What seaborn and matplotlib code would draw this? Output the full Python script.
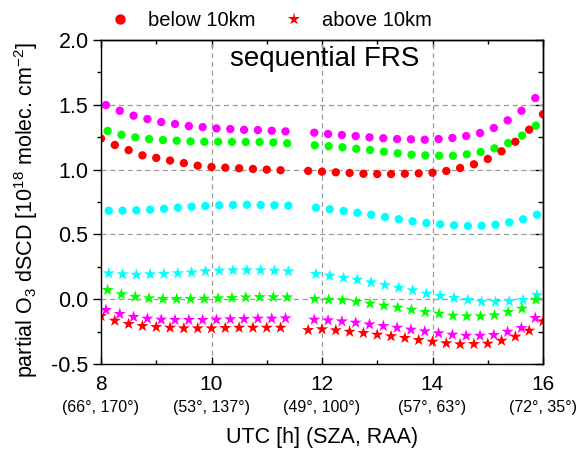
import numpy as np
import pandas as pd
import matplotlib
matplotlib.use("Agg")
import matplotlib.pyplot as plt
from matplotlib.lines import Line2D
from matplotlib.ticker import MultipleLocator
import seaborn as sns

# ---------------- data ----------------
red_t = [8.00, 8.25, 8.50, 8.75, 9.00, 9.25, 9.50, 9.75, 10.00, 10.25, 10.50, 10.75, 11.00, 11.25,
         11.75, 12.00, 12.25, 12.50, 12.75, 13.00, 13.25, 13.50, 13.75, 14.00, 14.25, 14.50, 14.75,
         15.00, 15.25, 15.50, 15.75, 16.00]
mag_t = [8.09, 8.34, 8.59, 8.84, 9.09, 9.34, 9.59, 9.84, 10.09, 10.34, 10.59, 10.84, 11.09, 11.34,
         11.86, 12.11, 12.36, 12.61, 12.86, 13.11, 13.36, 13.61, 13.86, 14.11, 14.36, 14.61, 14.86,
         15.11, 15.36, 15.61, 15.86]
grn_t = [8.12, 8.37, 8.62, 8.87, 9.12, 9.37, 9.62, 9.87, 10.12, 10.37, 10.62, 10.87, 11.12, 11.37,
         11.87, 12.12, 12.37, 12.62, 12.87, 13.12, 13.37, 13.62, 13.87, 14.12, 14.37, 14.62, 14.87,
         15.12, 15.37, 15.62, 15.87]
cyan_t = [8.14, 8.39, 8.64, 8.89, 9.14, 9.39, 9.64, 9.89, 10.14, 10.39, 10.64, 10.89, 11.14, 11.39,
          11.89, 12.14, 12.39, 12.64, 12.89, 13.14, 13.39, 13.64, 13.89, 14.14, 14.39, 14.64, 14.89,
          15.14, 15.39, 15.64, 15.89]

# below 10 km (circles)
red_below = [1.24, 1.19, 1.15, 1.11, 1.09, 1.07, 1.05, 1.03, 1.02, 1.015, 1.01, 1.005, 1.00, 0.995,
             0.99, 0.984, 0.979, 0.974, 0.968, 0.966, 0.966, 0.968, 0.971, 0.976, 0.989, 1.012, 1.041,
             1.082, 1.141, 1.215, 1.308, 1.427]
mag_below = [1.498, 1.454, 1.416, 1.39, 1.367, 1.352, 1.336, 1.328, 1.318, 1.313, 1.307, 1.305, 1.30, 1.295,
             1.285, 1.275, 1.267, 1.259, 1.249, 1.242, 1.236, 1.234, 1.231, 1.236, 1.244, 1.259, 1.282,
             1.321, 1.380, 1.454, 1.552]
grn_below = [1.298, 1.269, 1.249, 1.236, 1.228, 1.223, 1.218, 1.215, 1.215, 1.213, 1.213, 1.213, 1.21, 1.203,
             1.188, 1.180, 1.172, 1.161, 1.151, 1.138, 1.126, 1.115, 1.110, 1.107, 1.107, 1.118, 1.136,
             1.164, 1.205, 1.262, 1.339]
cyan_below = [0.683, 0.683, 0.686, 0.691, 0.698, 0.706, 0.714, 0.719, 0.725, 0.727, 0.729, 0.727, 0.725, 0.722,
              0.706, 0.694, 0.681, 0.667, 0.652, 0.634, 0.617, 0.601, 0.588, 0.578, 0.570, 0.565, 0.567,
              0.575, 0.593, 0.617, 0.652]

# above 10 km (stars)
red_above = [-0.130, -0.166, -0.191, -0.207, -0.215, -0.220, -0.225, -0.225, -0.225, -0.222, -0.220, -0.220, -0.220, -0.220,
             -0.238, -0.232, -0.240, -0.251, -0.261, -0.274, -0.286, -0.299, -0.315, -0.328, -0.340, -0.348, -0.346,
             -0.343, -0.320, -0.289, -0.243, -0.171]
mag_above = [-0.083, -0.114, -0.137, -0.150, -0.158, -0.160, -0.160, -0.160, -0.158, -0.155, -0.153, -0.150, -0.150, -0.147,
             -0.158, -0.163, -0.171, -0.181, -0.194, -0.207, -0.220, -0.235, -0.248, -0.263, -0.274, -0.282, -0.282,
             -0.276, -0.251, -0.222, -0.145]
grn_above = [0.071, 0.038, 0.019, 0.007, 0.002, 0.002, 0.002, 0.004, 0.007, 0.010, 0.014, 0.016, 0.016, 0.014,
             0.002, -0.004, -0.008, -0.021, -0.034, -0.050, -0.065, -0.081, -0.099, -0.112, -0.127, -0.132, -0.132,
             -0.124, -0.099, -0.073, -0.004]
cyan_above = [0.200, 0.192, 0.189, 0.192, 0.195, 0.200, 0.206, 0.215, 0.220, 0.223, 0.223, 0.223, 0.220, 0.215,
              0.194, 0.181, 0.165, 0.150, 0.130, 0.109, 0.088, 0.068, 0.042, 0.025, 0.009, -0.006, -0.019,
              -0.021, -0.016, -0.006, 0.032]

x_ticks = [8, 10, 12, 14, 16]
x_sub_labels = ["(66°, 170°)", "(53°, 137°)", "(49°, 100°)", "(57°, 63°)", "(72°, 35°)"]
y_ticks = [-0.5, 0.0, 0.5, 1.0, 1.5, 2.0]

colors = {"red": "#FF0000", "magenta": "#FF00FF", "green": "#00FF00", "cyan": "#00FFFF"}

rows = []
for name, t, vb, va in [("cyan", cyan_t, cyan_below, cyan_above),
                        ("green", grn_t, grn_below, grn_above),
                        ("magenta", mag_t, mag_below, mag_above),
                        ("red", red_t, red_below, red_above)]:
    for ti, v in zip(t, vb):
        rows.append((name, "below", ti, v))
    for ti, v in zip(t, va):
        rows.append((name, "above", ti, v))
df = pd.DataFrame(rows, columns=["series", "layer", "utc", "dscd"])

# ---------------- style ----------------
sns.set_theme(style="ticks")
plt.rcParams["font.family"] = ["Liberation Sans", "DejaVu Sans"]
plt.rcParams["mathtext.default"] = "regular"
plt.rcParams["axes.linewidth"] = 1.0
for k in ["text.color", "axes.labelcolor", "xtick.color", "ytick.color", "axes.edgecolor"]:
    plt.rcParams[k] = "black"

fig = plt.figure(figsize=(5.86, 4.55), dpi=100)
ax = fig.add_axes([101 / 586, 1 - 364 / 455, 442 / 586, 324 / 455])

order = ["cyan", "green", "magenta", "red"]
sns.scatterplot(data=df[df.layer == "below"], x="utc", y="dscd", hue="series",
                hue_order=order, palette=colors, marker="o", s=36, linewidth=0,
                legend=False, ax=ax)
sns.scatterplot(data=df[df.layer == "above"], x="utc", y="dscd", hue="series",
                hue_order=order, palette=colors, marker="*", s=85, linewidth=0,
                legend=False, ax=ax)

ax.set_xlim(8, 16)
ax.set_ylim(-0.5, 2.0)
ax.set_xticks(x_ticks)
ax.set_xticklabels([str(v) for v in x_ticks], fontsize=15)
ax.xaxis.set_minor_locator(MultipleLocator(1))
ax.set_yticks(y_ticks)
ax.set_yticklabels([f"{v:.1f}" for v in y_ticks], fontsize=15.5)
ax.yaxis.set_minor_locator(MultipleLocator(0.25))

ax.tick_params(axis="x", which="major", direction="in", length=5, width=1.0, pad=8, top=False)
ax.tick_params(axis="x", which="minor", direction="in", length=3, width=1.0, top=False)
ax.tick_params(axis="y", which="major", direction="out", length=5.5, width=1.0, pad=3.5, right=False)
ax.tick_params(axis="y", which="minor", direction="out", length=3, width=1.0, right=False)

top = ax.secondary_xaxis("top")
top.set_xticks(x_ticks)
top.xaxis.set_minor_locator(MultipleLocator(1))
top.tick_params(which="major", direction="in", length=5, width=1.0, labeltop=False)
top.tick_params(which="minor", direction="in", length=3, width=1.0)
right = ax.secondary_yaxis("right")
right.set_yticks(y_ticks)
right.yaxis.set_minor_locator(MultipleLocator(0.25))
right.tick_params(which="major", direction="in", length=6, width=1.0, labelright=False)
right.tick_params(which="minor", direction="in", length=3.5, width=1.0)

ax.grid(which="major", linestyle=(0, (4, 3)), color="#9a9a9a", linewidth=0.9)
ax.set_axisbelow(True)

for xv, lab in zip(x_ticks, x_sub_labels):
    ax.annotate(lab, xy=(xv, 0), xycoords=("data", "axes fraction"),
                xytext=(0, -31), textcoords="offset points",
                ha="center", va="center", fontsize=11.5, annotation_clip=False)

ax.set_xlabel("UTC [h] (SZA, RAA)", fontsize=15.5)
ax.xaxis.label.set_va("center")
ax.xaxis.set_label_coords(0.5, -0.228)
ax.set_ylabel("partial O$_3$ dSCD [10$^{18}$ molec. cm$^{-2}$]", fontsize=15.5)
ax.yaxis.label.set_va("center")
ax.yaxis.set_label_coords(-0.17, 0.475)

ax.text(0.505, 0.94, "sequential FRS", transform=ax.transAxes, ha="center", va="center", fontsize=20)

handles = [Line2D([], [], marker="o", color="#FF0000", linestyle="none", markersize=7.5, markeredgewidth=0),
           Line2D([], [], marker="*", color="#FF0000", linestyle="none", markersize=9.5, markeredgewidth=0)]
fig.legend(handles, ["below 10km", "above 10km"], loc="center", bbox_to_anchor=(0.458, 0.954),
           ncol=2, frameon=False, fontsize=14.5, handletextpad=0.6, columnspacing=1.2, handlelength=1.5)

fig.savefig("out.png", dpi=100)
